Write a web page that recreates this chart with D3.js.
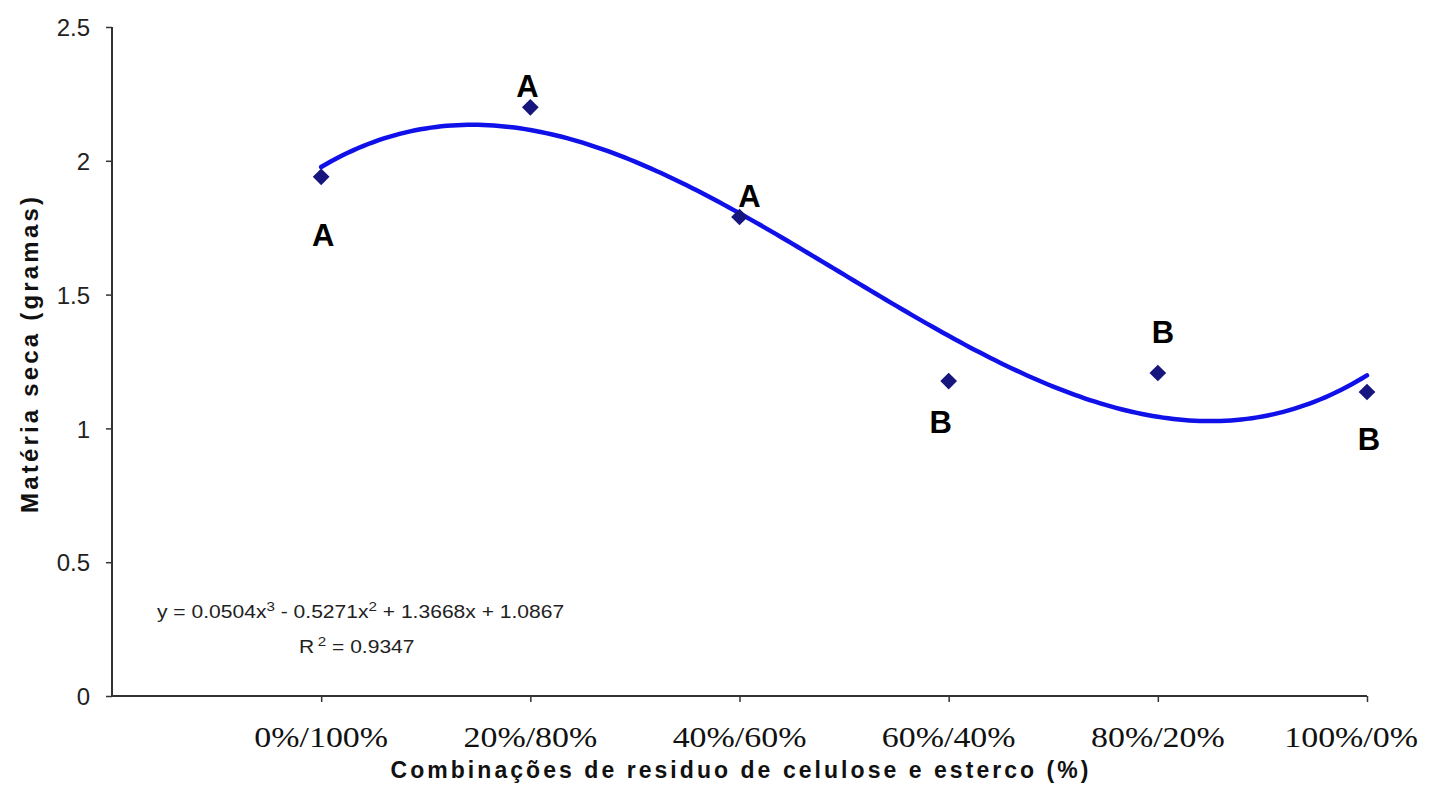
<!DOCTYPE html>
<html><head><meta charset="utf-8">
<script src="https://cdn.jsdelivr.net/npm/d3@7"></script>
<style>html,body{margin:0;padding:0;background:#fff;}svg{display:block;}</style>
</head><body>
<svg id="chart" width="1430" height="793"></svg>
<script>
const categories = ["0%/100%","20%/80%","40%/60%","60%/40%","80%/20%","100%/0%"];
const values = [1.94, 2.20, 1.79, 1.177, 1.207, 1.136];
const letters = ["A","A","A","B","B","B"];
const yTicks = [0, 0.5, 1, 1.5, 2, 2.5];
const trendCoefs = [0.0504, -0.5271, 1.3668, 1.0867]; // x^3, x^2, x, 1
const equationText = ["y = 0.0504x", "3", " - 0.5271x", "2", " + 1.3668x + 1.0867"];
const r2Text = ["R", "2", " = 0.9347"];
const yTitle = "Matéria seca (gramas)";
const xTitle = "Combinações de residuo de celulose e esterco (%)";

// layout-only offsets for the significance letters (pixels relative to each point)
const letterOffsets = [[2, 69], [-3, -10], [10, -10], [-8, 52], [5, -30], [2, 58]];

const svg = d3.select("#chart");
const x = d3.scaleLinear().domain([0, categories.length]).range([112, 1367]);
const y = d3.scaleLinear().domain([0, 2.5]).range([696, 27]);
const axisColor = "#333";
const stretch = 1.17;

// Y axis
const yAxis = svg.append("g").attr("transform", "translate(112,0)")
  .call(d3.axisLeft(y).tickValues(yTicks).tickSize(6).tickPadding(16).tickFormat(d3.format("")));
yAxis.select(".domain").attr("stroke", axisColor).attr("stroke-width", 2).attr("d", `M0,${y(2.5)}V${y(0)}`);
yAxis.selectAll(".tick line").attr("stroke", axisColor).attr("stroke-width", 1.5);
yAxis.selectAll(".tick text").attr("font-family", "Liberation Sans, Arial, sans-serif")
  .attr("font-size", 24).attr("fill", "#222").attr("dy", "0.36em").attr("x", -22);

// X axis
const xAxis = svg.append("g").attr("transform", `translate(0,${y(0)})`)
  .call(d3.axisBottom(x).tickValues(d3.range(1, categories.length + 1)).tickSize(6).tickFormat(""));
xAxis.select(".domain").attr("stroke", axisColor).attr("stroke-width", 2).attr("d", `M${x(0)},0H${x(categories.length)}`);
xAxis.selectAll(".tick line").attr("stroke", axisColor).attr("stroke-width", 1.5);

// Category labels (serif, slightly wide); kept inside the right edge
const catLabels = svg.append("g").selectAll("text").data(categories).join("text")
  .attr("text-anchor", "middle")
  .attr("font-family", "Liberation Serif, Times New Roman, serif")
  .attr("font-size", 29).attr("fill", "#111")
  .text(d => d);
catLabels.each(function(d, i) {
  const half = this.getComputedTextLength() * stretch / 2;
  const cx = Math.min(x(i + 1), 1418 - half);
  d3.select(this).attr("transform", `translate(${cx},747) scale(${stretch},1)`);
});

// Axis titles
svg.append("text").attr("x", x(3)).attr("y", 778)
  .attr("text-anchor", "middle").attr("font-family", "Liberation Sans, Arial, sans-serif")
  .attr("font-weight", "bold").attr("font-size", 23).attr("fill", "#111")
  .attr("textLength", 698).attr("lengthAdjust", "spacing").text(xTitle);
svg.append("text").attr("transform", "translate(38,355) rotate(-90)")
  .attr("text-anchor", "middle").attr("font-family", "Liberation Sans, Arial, sans-serif")
  .attr("font-weight", "bold").attr("font-size", 24).attr("fill", "#111")
  .attr("textLength", 316).attr("lengthAdjust", "spacing").text(yTitle);

// Trend line (from the chart's equation)
const poly = t => trendCoefs[0]*t*t*t + trendCoefs[1]*t*t + trendCoefs[2]*t + trendCoefs[3];
const samples = d3.range(0, 201).map(k => 1 + k * (categories.length - 1) / 200);
svg.append("path").datum(samples)
  .attr("fill", "none").attr("stroke", "#1010e8").attr("stroke-width", 4.5)
  .attr("stroke-linecap", "round")
  .attr("d", d3.line().x(t => x(t)).y(t => y(poly(t))));

// Points
svg.append("g").selectAll("path").data(values).join("path")
  .attr("transform", (d, i) => `translate(${x(i + 1)},${y(d)}) rotate(45)`)
  .attr("d", d3.symbol(d3.symbolSquare, 140)())
  .attr("fill", "#16167e");

// Letters
svg.append("g").selectAll("text").data(values).join("text")
  .attr("x", (d, i) => x(i + 1) + letterOffsets[i][0])
  .attr("y", (d, i) => y(d) + letterOffsets[i][1])
  .attr("text-anchor", "middle").attr("font-family", "Liberation Sans, Arial, sans-serif")
  .attr("font-weight", "bold").attr("font-size", 31).attr("fill", "#000")
  .text((d, i) => letters[i]);

// Equation
const eq = svg.append("text").attr("transform", `translate(157,618) scale(${stretch},1)`)
  .attr("font-family", "Liberation Sans, Arial, sans-serif").attr("font-size", 18).attr("fill", "#222");
equationText.forEach((s, i) => {
  eq.append("tspan").attr("font-size", i % 2 ? 13 : 18)
    .attr("dy", i % 2 ? -7 : (i > 0 ? 7 : 0)).text(s);
});
const r2 = svg.append("text").attr("transform", `translate(299,653) scale(${stretch},1)`)
  .attr("font-family", "Liberation Sans, Arial, sans-serif").attr("font-size", 18).attr("fill", "#222");
r2Text.forEach((s, i) => {
  r2.append("tspan").attr("font-size", i % 2 ? 13 : 18)
    .attr("dy", i % 2 ? -7 : (i > 0 ? 7 : 0)).attr("dx", i === 1 ? 3 : 0).text(s);
});
</script>
</body></html>
